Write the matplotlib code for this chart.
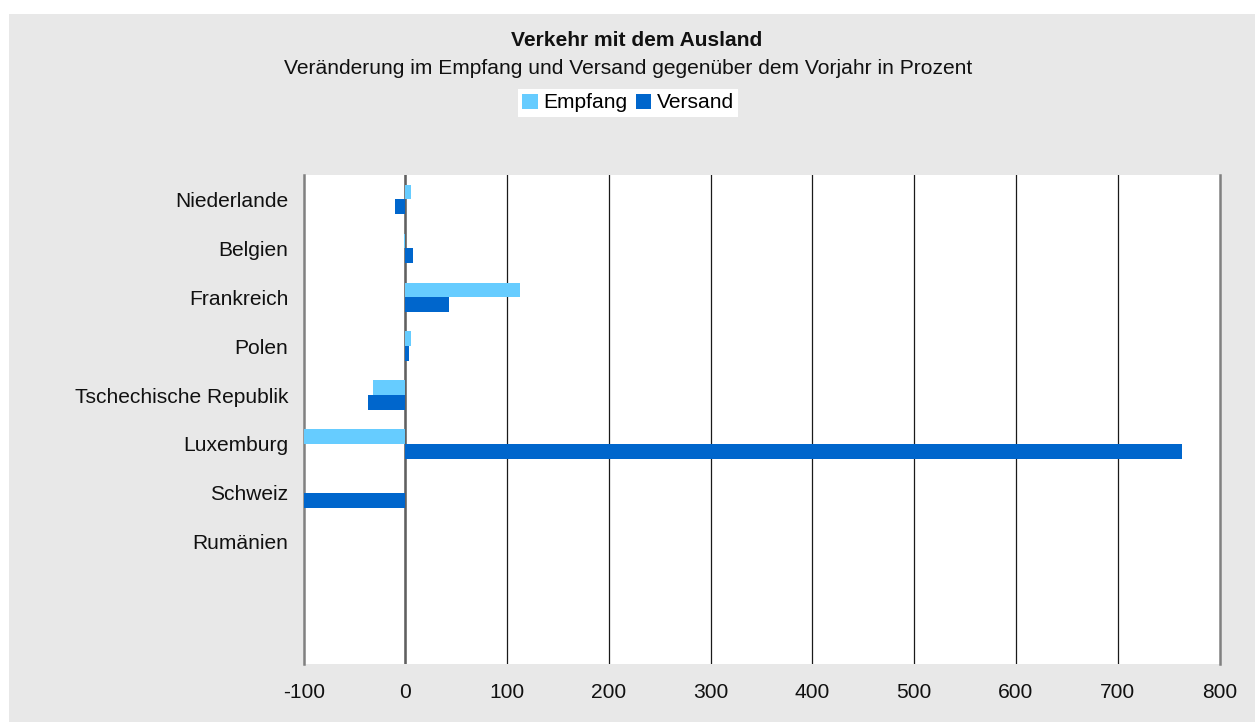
import matplotlib
matplotlib.use("Agg")
import matplotlib.pyplot as plt
from matplotlib.patches import Patch, Rectangle
import numpy as np

plt.rcParams['font.family'] = ['Liberation Sans', 'DejaVu Sans']

# Data: change versus previous year in percent
laender = ["Niederlande", "Belgien", "Frankreich", "Polen",
           "Tschechische Republik", "Luxemburg", "Schweiz", "Rumänien", "", ""]
empfang = [5, -1.5, 113, 5, -32, -100, np.nan, np.nan, np.nan, np.nan]
versand = [-10, 7, 43, 3, -37, 763, -100, np.nan, np.nan, np.nan]
x_ticks = [-100, 0, 100, 200, 300, 400, 500, 600, 700, 800]

c_empf = "#66ccff"
c_vers = "#0066cc"
bg = "#e8e8e8"
fs = 15.1

W, H = 1255, 722
fig = plt.figure(figsize=(W / 100, H / 100), dpi=100, facecolor="white")

# grey panel behind the chart
fig.patches.append(Rectangle((9 / W, 0), 1 - 9 / W, 1 - 14 / H,
                             transform=fig.transFigure, facecolor=bg,
                             edgecolor="none", zorder=-10))

left, right = 303.7 / W, 1219.5 / W
top, bottom = 1 - 175 / H, 1 - 664 / H
ax = fig.add_axes([left, bottom, right - left, top - bottom])
ax.set_facecolor("white")

y = np.arange(len(laender))
h = 0.3
ax.barh(y - h / 2, empfang, height=h, color=c_empf, zorder=3)
ax.barh(y + h / 2, versand, height=h, color=c_vers, zorder=3)

ax.set_xlim(-100, 800)
ax.set_ylim(len(laender) - 0.5, -0.5)
ax.set_xticks(x_ticks)
ax.set_xticklabels([str(v) for v in x_ticks])
ax.set_yticks(y)
ax.set_yticklabels(laender)
ax.tick_params(axis="both", length=0, labelsize=fs, colors="#111111")
ax.tick_params(axis="y", pad=11)
ax.tick_params(axis="x", pad=14)

for v in x_ticks[1:-1]:
    ax.axvline(v, color="#1a1a1a", lw=0.9, zorder=2)
ax.axvline(0, color="#606060", lw=1.8, zorder=2)

for s in ["top", "bottom"]:
    ax.spines[s].set_visible(False)
for s in ["left", "right"]:
    ax.spines[s].set_color("#808080")
    ax.spines[s].set_linewidth(1.8)

fig.text(636.5 / W, 1 - 41 / H, "Verkehr mit dem Ausland", ha="center",
         va="center", fontsize=fs, fontweight="bold", color="#111111")
fig.text(628 / W, 1 - 68 / H,
         "Veränderung im Empfang und Versand gegenüber dem Vorjahr in Prozent",
         ha="center", va="center", fontsize=fs, color="#111111")

handles = [Patch(facecolor=c_empf, label="Empfang"),
           Patch(facecolor=c_vers, label="Versand")]
leg = fig.legend(handles=handles, loc="center", bbox_to_anchor=(628 / W, 1 - 103 / H),
                 ncol=2, frameon=True, fontsize=fs, handlelength=0.75,
                 handleheight=0.75, handletextpad=0.25, columnspacing=0.4,
                 borderpad=0.2, borderaxespad=0, fancybox=False)
leg.get_frame().set_facecolor("white")
leg.get_frame().set_edgecolor("none")
leg.get_frame().set_alpha(1)

fig.savefig("out.png", dpi=100, facecolor="white")
